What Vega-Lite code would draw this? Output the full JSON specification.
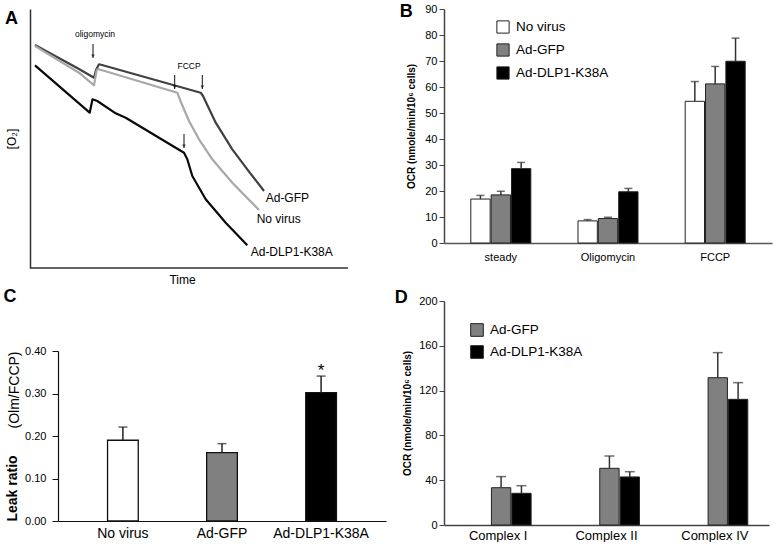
{
  "$schema": "https://vega.github.io/schema/vega-lite/v6.json",
  "background": "white",
  "padding": {"left": 3, "top": 3, "right": 3, "bottom": 0},
  "config": {
    "font": "Liberation Sans",
    "view": {"stroke": null},
    "axis": {"grid": false, "labelColor": "#000", "titleColor": "#000", "labelFont": "Liberation Sans", "titleFont": "Liberation Sans", "labelOverlap": false},
    "title": {"anchor": "start", "frame": "bounds", "fontSize": 18, "fontWeight": "bold", "font": "Liberation Sans", "color": "#000"}
  },
  "spacing": 8,
  "resolve": {"scale": {"fill": "independent", "x": "independent", "y": "independent"}, "legend": {"fill": "independent"}},
  "hconcat": [
    {
      "spacing": 3,
      "resolve": {"scale": {"fill": "independent", "x": "independent", "y": "independent"}, "legend": {"fill": "independent"}},
      "vconcat": [
        {
          "width": 290,
          "height": 259,
          "title": {"text": "A", "offset": -19},
          "layer": [
            {
              "data": {"values": [{"t": 0, "t2": 318, "o2": 0}]},
              "mark": {"type": "rule", "stroke": "#333", "strokeWidth": 1.5},
              "encoding": {
                "x": {"field": "t", "type": "quantitative", "scale": {"domain": [28, 318], "nice": false, "zero": false},
                  "axis": {"title": "Time", "labels": false, "ticks": false, "domain": false, "titleFontSize": 12, "titleFontWeight": "normal", "titlePadding": 6, "titleX": 124}},
                "x2": {"field": "t2"},
                "y": {"field": "o2", "type": "quantitative", "scale": {"domain": [0, 259], "nice": false, "zero": false},
                  "axis": {"title": "[O₂]", "labels": false, "ticks": false, "offset": 28, "domainColor": "#333", "domainWidth": 1.5, "titleFontSize": 12, "titleFontWeight": "normal", "titlePadding": 12}}
              }
            },
            {
              "data": {"values": [
                {"s": "Ad-GFP", "i": 0, "t": 5, "o2": 223},
                {"s": "Ad-GFP", "i": 1, "t": 49, "o2": 199},
                {"s": "Ad-GFP", "i": 2, "t": 64, "o2": 190.3},
                {"s": "Ad-GFP", "i": 3, "t": 66, "o2": 198},
                {"s": "Ad-GFP", "i": 4, "t": 69, "o2": 203.7},
                {"s": "Ad-GFP", "i": 5, "t": 72, "o2": 203},
                {"s": "Ad-GFP", "i": 6, "t": 170.7, "o2": 175.3},
                {"s": "Ad-GFP", "i": 7, "t": 173, "o2": 172},
                {"s": "Ad-GFP", "i": 8, "t": 185.7, "o2": 145.3},
                {"s": "Ad-GFP", "i": 9, "t": 202.3, "o2": 118.7},
                {"s": "Ad-GFP", "i": 10, "t": 217.3, "o2": 98.7},
                {"s": "Ad-GFP", "i": 11, "t": 234, "o2": 77},
                {"s": "No virus", "i": 0, "t": 5, "o2": 222},
                {"s": "No virus", "i": 1, "t": 49, "o2": 195.3},
                {"s": "No virus", "i": 2, "t": 64, "o2": 182.7},
                {"s": "No virus", "i": 3, "t": 66.5, "o2": 197},
                {"s": "No virus", "i": 4, "t": 68, "o2": 199},
                {"s": "No virus", "i": 5, "t": 147.3, "o2": 175.3},
                {"s": "No virus", "i": 6, "t": 150.7, "o2": 166.5},
                {"s": "No virus", "i": 7, "t": 159, "o2": 147},
                {"s": "No virus", "i": 8, "t": 169, "o2": 128.7},
                {"s": "No virus", "i": 9, "t": 182.3, "o2": 108.7},
                {"s": "No virus", "i": 10, "t": 202.3, "o2": 85.3},
                {"s": "No virus", "i": 11, "t": 229, "o2": 58},
                {"s": "Ad-DLP1-K38A", "i": 0, "t": 5, "o2": 202.7},
                {"s": "Ad-DLP1-K38A", "i": 1, "t": 59.7, "o2": 155.3},
                {"s": "Ad-DLP1-K38A", "i": 2, "t": 62.5, "o2": 168.7},
                {"s": "Ad-DLP1-K38A", "i": 3, "t": 67.3, "o2": 167},
                {"s": "Ad-DLP1-K38A", "i": 4, "t": 85.7, "o2": 154.7},
                {"s": "Ad-DLP1-K38A", "i": 5, "t": 95.7, "o2": 150.3},
                {"s": "Ad-DLP1-K38A", "i": 6, "t": 154, "o2": 115.3},
                {"s": "Ad-DLP1-K38A", "i": 7, "t": 157.3, "o2": 108.7},
                {"s": "Ad-DLP1-K38A", "i": 8, "t": 162.3, "o2": 92},
                {"s": "Ad-DLP1-K38A", "i": 9, "t": 175.7, "o2": 68.7},
                {"s": "Ad-DLP1-K38A", "i": 10, "t": 195.7, "o2": 45.3},
                {"s": "Ad-DLP1-K38A", "i": 11, "t": 217.3, "o2": 22.7}
              ]},
              "mark": {"type": "line", "strokeWidth": 2.2, "strokeJoin": "round"},
              "encoding": {
                "x": {"field": "t", "type": "quantitative"},
                "y": {"field": "o2", "type": "quantitative"},
                "color": {"field": "s", "type": "nominal", "scale": {"domain": ["Ad-GFP", "No virus", "Ad-DLP1-K38A"], "range": ["#404040", "#a8a8a8", "#0a0a0a"]}, "legend": null},
                "order": {"field": "i", "type": "quantitative"}
              }
            },
            {
              "data": {"values": [
                {"t": 63, "o2": 224, "o2b": 210},
                {"t": 144.7, "o2": 193, "o2b": 179},
                {"t": 172.3, "o2": 193, "o2b": 179},
                {"t": 154, "o2": 134, "o2b": 120}
              ]},
              "mark": {"type": "rule", "stroke": "#111", "strokeWidth": 1},
              "encoding": {"x": {"field": "t", "type": "quantitative"}, "y": {"field": "o2", "type": "quantitative"}, "y2": {"field": "o2b"}}
            },
            {
              "data": {"values": [
                {"t": 63, "o2": 212},
                {"t": 144.7, "o2": 181},
                {"t": 172.3, "o2": 181},
                {"t": 154, "o2": 122}
              ]},
              "mark": {"type": "point", "shape": "triangle-down", "filled": true, "color": "#111", "size": 14},
              "encoding": {"x": {"field": "t", "type": "quantitative"}, "y": {"field": "o2", "type": "quantitative"}}
            },
            {
              "data": {"values": [
                {"t": 65, "o2": 234, "label": "oligomycin"},
                {"t": 159, "o2": 202, "label": "FCCP"}
              ]},
              "mark": {"type": "text", "fontSize": 8.5, "align": "center", "baseline": "middle", "color": "#000"},
              "encoding": {"x": {"field": "t", "type": "quantitative"}, "y": {"field": "o2", "type": "quantitative"}, "text": {"field": "label"}}
            },
            {
              "data": {"values": [
                {"t": 235.7, "o2": 70.3, "label": "Ad-GFP"},
                {"t": 226.7, "o2": 48.7, "label": "No virus"},
                {"t": 220.7, "o2": 16, "label": "Ad-DLP1-K38A"}
              ]},
              "mark": {"type": "text", "fontSize": 12, "align": "left", "baseline": "middle", "color": "#000"},
              "encoding": {"x": {"field": "t", "type": "quantitative"}, "y": {"field": "o2", "type": "quantitative"}, "text": {"field": "label"}}
            }
          ]
        },
        {
          "width": 328,
          "height": 170,
          "title": {"text": "C", "offset": 39, "dx": -2},
          "data": {"values": [
            {"grp": "No virus", "v": 0.190, "hi": 0.221, "sig": ""},
            {"grp": "Ad-GFP", "v": 0.161, "hi": 0.182, "sig": ""},
            {"grp": "Ad-DLP1-K38A", "v": 0.302, "hi": 0.341, "sig": "*"}
          ]},
          "encoding": {
            "x": {"field": "grp", "type": "nominal", "sort": ["No virus", "Ad-GFP", "Ad-DLP1-K38A"], "scale": {"paddingInner": 0.69, "paddingOuter": 0.5},
              "axis": {"title": null, "labelAngle": 0, "ticks": false, "domainColor": "#111", "domainWidth": 1.2, "labelFontSize": 14, "labelPadding": 5}}
          },
          "resolve": {"axis": {"y": "independent"}},
          "layer": [
            {
              "mark": {"type": "bar", "stroke": "#111", "strokeWidth": 1.3},
              "encoding": {
                "y": {"field": "v", "type": "quantitative", "scale": {"domain": [0, 0.4], "nice": false},
                  "axis": {"title": "Leak ratio", "titleAnchor": "start", "values": [0, 0.1, 0.2, 0.3, 0.4], "format": ".2f", "labelOverlap": false, "tickSize": 6, "tickColor": "#111", "domainColor": "#111", "domainWidth": 1.2, "labelFontSize": 11, "labelPadding": 6, "titleFontSize": 14, "titleFontWeight": "bold", "titlePadding": 5}},
                "fill": {"field": "grp", "type": "nominal", "scale": {"domain": ["No virus", "Ad-GFP", "Ad-DLP1-K38A"], "range": ["#ffffff", "#808080", "#000000"]}, "legend": null}
              }
            },
            {
              "mark": {"type": "rule", "stroke": "#222", "strokeWidth": 1.5},
              "encoding": {"y": {"field": "v", "type": "quantitative",
                "axis": {"orient": "left", "title": "(Olm/FCCP)", "titleAnchor": "end", "labels": false, "ticks": false, "domain": false, "titleFontSize": 14, "titleFontWeight": "normal", "titlePadding": 37}},
                "y2": {"field": "hi"}}
            },
            {
              "mark": {"type": "tick", "color": "#222", "thickness": 1.5, "size": 9},
              "encoding": {"y": {"field": "hi", "type": "quantitative", "axis": null}}
            },
            {
              "mark": {"type": "text", "fontSize": 17, "baseline": "alphabetic", "align": "center", "color": "#000"},
              "encoding": {"y": {"field": "hi", "type": "quantitative", "axis": null}, "text": {"field": "sig"}}
            }
          ]
        }
      ]
    },
    {
      "spacing": 27,
      "resolve": {"scale": {"fill": "independent", "x": "independent", "y": "independent"}, "legend": {"fill": "independent"}},
      "vconcat": [
        {
          "width": 328,
          "height": 234,
          "title": {"text": "B", "offset": -18, "dx": -7},
          "data": {"values": [
            {"cond": "steady", "grp": "No virus", "v": 16.9, "hi": 18.3},
            {"cond": "steady", "grp": "Ad-GFP", "v": 18.5, "hi": 19.9},
            {"cond": "steady", "grp": "Ad-DLP1-K38A", "v": 28.6, "hi": 31.0},
            {"cond": "Oligomycin", "grp": "No virus", "v": 8.5, "hi": 9.0},
            {"cond": "Oligomycin", "grp": "Ad-GFP", "v": 9.4, "hi": 9.9},
            {"cond": "Oligomycin", "grp": "Ad-DLP1-K38A", "v": 19.7, "hi": 21.0},
            {"cond": "FCCP", "grp": "No virus", "v": 54.5, "hi": 62.1},
            {"cond": "FCCP", "grp": "Ad-GFP", "v": 61.2, "hi": 67.9},
            {"cond": "FCCP", "grp": "Ad-DLP1-K38A", "v": 69.9, "hi": 78.8}
          ]},
          "encoding": {
            "x": {"field": "cond", "type": "nominal", "sort": ["steady", "Oligomycin", "FCCP"], "scale": {"paddingInner": 0.44, "paddingOuter": 0.25},
              "axis": {"title": null, "labelAngle": 0, "ticks": false, "domainColor": "#555", "domainWidth": 1.5, "labelFontSize": 11, "labelPadding": 8}},
            "xOffset": {"field": "grp", "type": "nominal", "sort": ["No virus", "Ad-GFP", "Ad-DLP1-K38A"], "scale": {"paddingInner": 0.05}}
          },
          "layer": [
            {
              "mark": {"type": "bar", "stroke": "#222", "strokeWidth": 1},
              "encoding": {
                "y": {"field": "v", "type": "quantitative", "scale": {"domain": [0, 90], "nice": false},
                  "axis": {"title": "OCR (nmole/min/10⁶ cells)", "values": [0, 10, 20, 30, 40, 50, 60, 70, 80, 90], "labelOverlap": false, "tickSize": 5, "tickColor": "#444", "domainColor": "#444", "domainWidth": 1.5, "labelFontSize": 11, "labelPadding": 2, "titleFontSize": 10, "titleFontWeight": "bold", "titlePadding": 8}},
                "fill": {"field": "grp", "type": "nominal", "sort": ["No virus", "Ad-GFP", "Ad-DLP1-K38A"],
                  "scale": {"domain": ["No virus", "Ad-GFP", "Ad-DLP1-K38A"], "range": ["#ffffff", "#808080", "#000000"]},
                  "legend": {"orient": "none", "legendX": 52, "legendY": 11, "title": null, "symbolType": "square", "symbolSize": 150, "symbolStrokeColor": "#222", "symbolStrokeWidth": 1, "symbolOpacity": 1, "labelFontSize": 13.5, "labelOffset": 6, "rowPadding": 5, "padding": 0, "labelColor": "#000"}}
              }
            },
            {
              "mark": {"type": "rule", "stroke": "#333", "strokeWidth": 1.5},
              "encoding": {"y": {"field": "v", "type": "quantitative",
                "axis": {"title": "OCR (nmole/min/10⁶ cells)", "values": [0, 10, 20, 30, 40, 50, 60, 70, 80, 90], "labelOverlap": false, "tickSize": 5, "tickColor": "#444", "domainColor": "#444", "domainWidth": 1.5, "labelFontSize": 11, "labelPadding": 2, "titleFontSize": 10, "titleFontWeight": "bold", "titlePadding": 8}},
                "y2": {"field": "hi"}}
            },
            {
              "mark": {"type": "tick", "color": "#333", "thickness": 1.5, "size": 8},
              "encoding": {"y": {"field": "hi", "type": "quantitative",
                "axis": {"title": "OCR (nmole/min/10⁶ cells)", "values": [0, 10, 20, 30, 40, 50, 60, 70, 80, 90], "labelOverlap": false, "tickSize": 5, "tickColor": "#444", "domainColor": "#444", "domainWidth": 1.5, "labelFontSize": 11, "labelPadding": 2, "titleFontSize": 10, "titleFontWeight": "bold", "titlePadding": 8}}}
            }
          ]
        },
        {
          "width": 325,
          "height": 224,
          "title": {"text": "D", "offset": -12, "dx": -8},
          "data": {"values": [
            {"cx": "Complex I", "grp": "Ad-GFP", "v": 33.3, "hi": 43.2},
            {"cx": "Complex I", "grp": "Ad-DLP1-K38A", "v": 28.3, "hi": 35.1},
            {"cx": "Complex II", "grp": "Ad-GFP", "v": 50.6, "hi": 61.6},
            {"cx": "Complex II", "grp": "Ad-DLP1-K38A", "v": 42.9, "hi": 47.6},
            {"cx": "Complex IV", "grp": "Ad-GFP", "v": 131.5, "hi": 153.9},
            {"cx": "Complex IV", "grp": "Ad-DLP1-K38A", "v": 112.2, "hi": 127.1}
          ]},
          "encoding": {
            "x": {"field": "cx", "type": "nominal", "sort": ["Complex I", "Complex II", "Complex IV"], "scale": {"paddingInner": 0.5, "paddingOuter": 0.25},
              "axis": {"title": null, "labelAngle": 0, "ticks": false, "domainColor": "#444", "domainWidth": 1.5, "labelFontSize": 13, "labelPadding": 4}},
            "xOffset": {"field": "grp", "type": "nominal", "sort": ["Ad-GFP", "Ad-DLP1-K38A"], "scale": {"paddingInner": 0.04}}
          },
          "layer": [
            {
              "mark": {"type": "bar", "stroke": "#222", "strokeWidth": 1},
              "encoding": {
                "y": {"field": "v", "type": "quantitative", "scale": {"domain": [0, 200], "nice": false},
                  "axis": {"title": "OCR (nmole/min/10⁶ cells)", "values": [0, 40, 80, 120, 160, 200], "labelOverlap": false, "tickSize": 5, "tickColor": "#444", "domainColor": "#444", "domainWidth": 1.5, "labelFontSize": 11, "labelPadding": 2, "titleFontSize": 10, "titleFontWeight": "bold", "titlePadding": 6}},
                "fill": {"field": "grp", "type": "nominal", "sort": ["Ad-GFP", "Ad-DLP1-K38A"],
                  "scale": {"domain": ["Ad-GFP", "Ad-DLP1-K38A"], "range": ["#808080", "#000000"]},
                  "legend": {"orient": "none", "legendX": 26, "legendY": 22, "title": null, "symbolType": "square", "symbolSize": 160, "symbolStrokeColor": "#222", "symbolStrokeWidth": 1, "symbolOpacity": 1, "labelFontSize": 13.5, "labelOffset": 6, "rowPadding": 4, "padding": 0, "labelColor": "#000"}}
              }
            },
            {
              "mark": {"type": "rule", "stroke": "#333", "strokeWidth": 1.5},
              "encoding": {"y": {"field": "v", "type": "quantitative",
                "axis": {"title": "OCR (nmole/min/10⁶ cells)", "values": [0, 40, 80, 120, 160, 200], "labelOverlap": false, "tickSize": 5, "tickColor": "#444", "domainColor": "#444", "domainWidth": 1.5, "labelFontSize": 11, "labelPadding": 2, "titleFontSize": 10, "titleFontWeight": "bold", "titlePadding": 6}},
                "y2": {"field": "hi"}}
            },
            {
              "mark": {"type": "tick", "color": "#333", "thickness": 1.5, "size": 10},
              "encoding": {"y": {"field": "hi", "type": "quantitative",
                "axis": {"title": "OCR (nmole/min/10⁶ cells)", "values": [0, 40, 80, 120, 160, 200], "labelOverlap": false, "tickSize": 5, "tickColor": "#444", "domainColor": "#444", "domainWidth": 1.5, "labelFontSize": 11, "labelPadding": 2, "titleFontSize": 10, "titleFontWeight": "bold", "titlePadding": 6}}}
            }
          ]
        }
      ]
    }
  ]
}
